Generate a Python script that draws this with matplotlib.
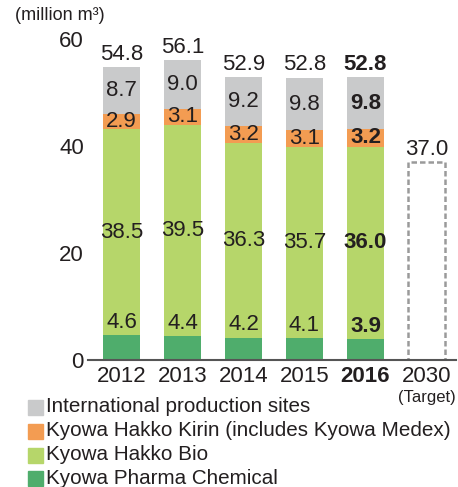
import numpy as np
import matplotlib
matplotlib.use("Agg")
from matplotlib import pyplot as plt
from matplotlib.patches import Rectangle

plt.rcParams['font.family'] = ['Liberation Sans', 'DejaVu Sans']

years = ['2012', '2013', '2014', '2015', '2016']
pharma_chem = [4.6, 4.4, 4.2, 4.1, 3.9]
hakko_bio = [38.5, 39.5, 36.3, 35.7, 36.0]
hakko_kirin = [2.9, 3.1, 3.2, 3.1, 3.2]
international = [8.7, 9.0, 9.2, 9.8, 9.8]
totals = [54.8, 56.1, 52.9, 52.8, 52.8]
target_year = '2030'
target_value = 37.0

series = [
    ('Kyowa Pharma Chemical', pharma_chem, '#4fad6c'),
    ('Kyowa Hakko Bio', hakko_bio, '#b6d66a'),
    ('Kyowa Hakko Kirin (includes Kyowa Medex)', hakko_kirin, '#f39c52'),
    ('International production sites', international, '#c9cacb'),
]
txt = '#231f20'
fs = 16

W, H = 458, 487
fig = plt.figure(figsize=(W / 100, H / 100), dpi=100)
ax = fig.add_axes([88 / W, (H - 360) / H, 368 / W, 321 / H])

x = np.arange(len(years))
width = 0.607
bottom = np.zeros(len(years))
for name, vals, col in series:
    vals = np.array(vals)
    ax.bar(x, vals, width, bottom=bottom, color=col, zorder=2)
    for i, v in enumerate(vals):
        w = 'bold' if years[i] == '2016' else 'normal'
        if name == 'Kyowa Pharma Chemical':
            # small bottom segment: label sits just above it
            ax.annotate(f'{v:.1f}', (x[i], bottom[i] + v), xytext=(0, 1.5),
                        textcoords='offset points', ha='center', va='bottom',
                        fontsize=fs, color=txt, weight=w)
        else:
            ax.text(x[i], bottom[i] + v / 2, f'{v:.1f}', ha='center', va='center',
                    fontsize=fs, color=txt, weight=w)
    bottom += vals

for i, t in enumerate(totals):
    w = 'bold' if years[i] == '2016' else 'normal'
    ax.annotate(f'{t:.1f}', (x[i], t), xytext=(0, 1.5), textcoords='offset points',
                ha='center', va='bottom', fontsize=fs, color=txt, weight=w)

# 2030 target
xt = len(years)
ax.bar(xt, target_value, width, fill=False, edgecolor='#9a9a9a',
       linestyle=(0, (2.2, 1.2)), linewidth=1.8, zorder=2)
ax.annotate(f'{target_value:.1f}', (xt, target_value), xytext=(0, 1.5),
            textcoords='offset points', ha='center', va='bottom', fontsize=fs, color=txt)

ax.set_xlim(-0.549, 5.484)
ax.set_ylim(0, 60)
ax.set_yticks([0, 20, 40, 60])
ax.set_xticks(list(x) + [xt])
ax.set_xticklabels(years + [target_year], fontsize=fs, color=txt)
ax.get_xticklabels()[4].set_fontweight('bold')
ax.tick_params(axis='y', length=0, pad=3, labelsize=fs, labelcolor=txt)
ax.tick_params(axis='x', length=0, pad=4)
for s in ['top', 'right', 'left']:
    ax.spines[s].set_visible(False)
ax.spines['bottom'].set_color('#555555')
ax.spines['bottom'].set_linewidth(1.5)
ax.spines['bottom'].set_zorder(3)
ax.text(xt, -0.118, '(Target)', transform=ax.get_xaxis_transform(), ha='center',
        va='center', fontsize=12, color=txt)

fig.text(15 / W, 1 - 16 / H, '(million m³)', fontsize=13, color=txt, va='center')

# legend
rows = [407, 431, 455, 478]
for (name, vals, col), yy in zip(series[::-1], rows):
    fig.patches.append(Rectangle((28 / W, 1 - (yy + 7.5) / H), 15 / W, 15 / H,
                                 transform=fig.transFigure, color=col))
    fig.text(46 / W, 1 - yy / H, name, fontsize=14.9, color=txt, va='center')

plt.savefig('out.png', dpi=100)
